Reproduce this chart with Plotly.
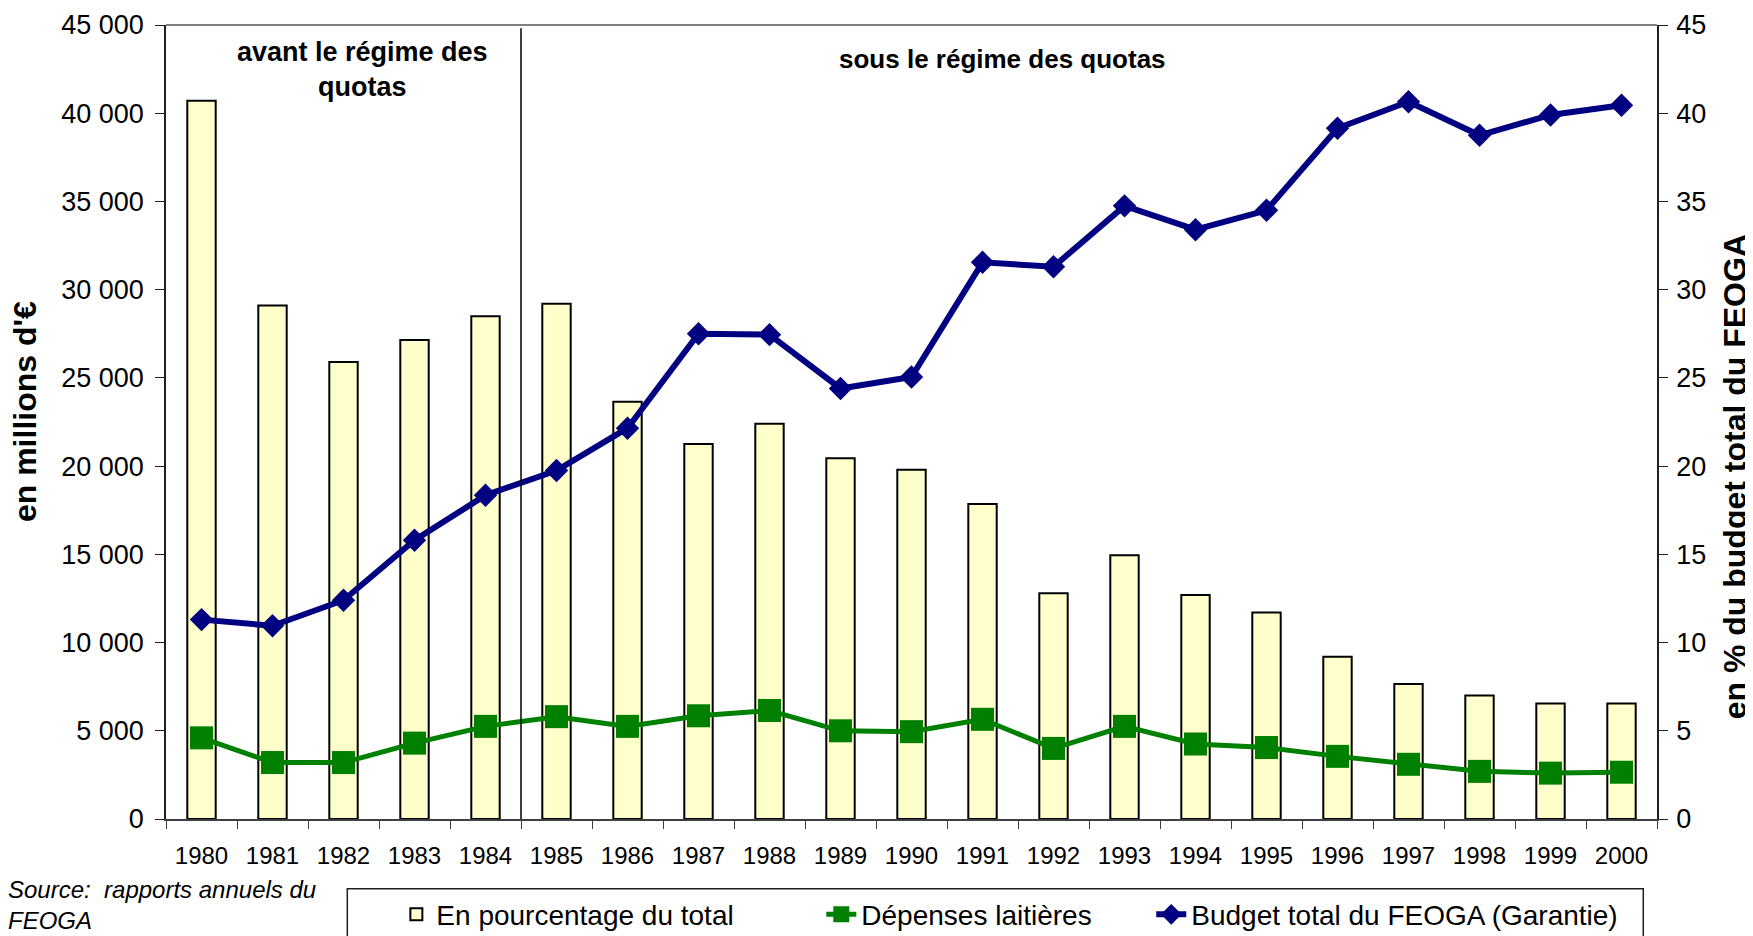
import plotly.graph_objects as go

years = [str(y) for y in range(1980, 2001)]
pct_of_total = [40.7, 29.1, 25.9, 27.15, 28.5, 29.2, 23.65, 21.25, 22.4, 20.45, 19.8,
                17.85, 12.8, 14.95, 12.7, 11.7, 9.2, 7.65, 7.0, 6.55, 6.55]
dairy_spend = [4600, 3200, 3200, 4300, 5250, 5800, 5250, 5850, 6150, 5000, 4950,
               5650, 4000, 5250, 4250, 4050, 3550, 3100, 2700, 2600, 2650]
feoga_budget = [11300, 10950, 12400, 15800, 18350, 19750, 22150, 27500, 27450, 24400, 25050,
                31550, 31300, 34750, 33400, 34500, 39150, 40650, 38750, 39900, 40450]

pct_ticks = list(range(0, 50, 5))
mio_ticks = list(range(0, 50000, 5000))

FONT = "Liberation Sans, Arial, sans-serif"

fig = go.Figure()
fig.add_trace(go.Bar(
    x=years, y=pct_of_total, name="En pourcentage du total",
    marker=dict(color="#FFFFCC", line=dict(color="black", width=2)),
    yaxis="y", legend="legend",
))
fig.add_trace(go.Scatter(
    x=years, y=dairy_spend, name="Dépenses laitières", mode="lines+markers",
    line=dict(color="#008000", width=5),
    marker=dict(symbol="square", size=23, color="#008000"),
    yaxis="y2", legend="legend2",
))
fig.add_trace(go.Scatter(
    x=years, y=feoga_budget, name="Budget total du FEOGA (Garantie)", mode="lines+markers",
    line=dict(color="#000080", width=6),
    marker=dict(symbol="diamond", size=18, color="#000080"),
    yaxis="y2", legend="legend3",
))

leg_common = dict(orientation="h", y=-0.089, xanchor="left", yanchor="top",
                  borderwidth=0, bgcolor="rgba(0,0,0,0)", font=dict(size=28))

fig.update_layout(
    width=1753, height=936,
    margin=dict(l=158, r=104, t=16.5, b=124.7, autoexpand=False),
    paper_bgcolor="white", plot_bgcolor="white",
    font=dict(family=FONT, size=26, color="black"),
    separators=", ",
    bargap=0.6,
    showlegend=True,
    legend=dict(x=0.1545, **leg_common),
    legend2=dict(x=0.4395, **leg_common),
    legend3=dict(x=0.6608, **leg_common),
    xaxis=dict(
        type="category", range=[-0.5, 20.5], showgrid=False, showline=True,
        linecolor="#404040", linewidth=1.5, automargin=False,
        ticks="outside", ticklen=8, tickcolor="#404040", tickson="boundaries",
        tickfont=dict(size=24), ticklabelstandoff=14,
    ),
    yaxis=dict(
        side="right", range=[0, 45], tickvals=pct_ticks, showgrid=False, automargin=False,
        showline=True, linecolor="#202020", linewidth=1.5, ticks="outside", ticklen=9,
        tickcolor="#202020", tickfont=dict(size=27), zeroline=False,
        ticklabelstandoff=3,
    ),
    yaxis2=dict(
        overlaying="y", side="left", range=[0, 45000], tickvals=mio_ticks, tickformat=",d",
        showgrid=False, showline=True, linecolor="#202020", linewidth=1.5, ticks="outside",
        ticklen=9, tickcolor="#202020", tickfont=dict(size=27), zeroline=False,
        ticklabelstandoff=6, automargin=False,
    ),
)

# top border of plot area (grey)
fig.add_shape(type="line", xref="paper", yref="paper", x0=0, x1=1, y0=1, y1=1,
              line=dict(color="#808080", width=2))
# separator between periods
fig.add_shape(type="line", xref="x", yref="paper", x0=4.5, x1=4.5, y0=0, y1=0.996,
              line=dict(color="black", width=1.5))
# legend frame
fig.add_shape(type="rect", xref="paper", yref="paper", x0=0.1216, x1=0.9908,
              y0=-0.0877, y1=-0.20, line=dict(color="#202020", width=1.5),
              fillcolor="rgba(0,0,0,0)", layer="below")

fig.add_annotation(text="<b>avant le régime des<br>quotas</b>", xref="paper", yref="paper",
                   x=0.1317, y=0.944, showarrow=False, font=dict(size=27),
                   xanchor="center", yanchor="middle")
fig.add_annotation(text="<b>sous le régime des quotas</b>", xref="paper", yref="paper",
                   x=0.561, y=0.957, showarrow=False, font=dict(size=26),
                   xanchor="center", yanchor="middle")
fig.add_annotation(text="<b>en millions d'€</b>", xref="paper", yref="paper",
                   x=-0.0946, y=0.5137, textangle=-90, showarrow=False, font=dict(size=32),
                   xanchor="center", yanchor="middle")
fig.add_annotation(text="<b>en % du budget total du FEOGA</b>", xref="paper", yref="paper",
                   x=1.0525, y=0.4307, textangle=-90, showarrow=False, font=dict(size=32),
                   xanchor="center", yanchor="middle")
fig.add_annotation(text="<i>Source:\u00a0\u00a0rapports annuels du<br>FEOGA</i>", xref="paper",
                   yref="paper", x=-0.107, y=-0.0692, showarrow=False, font=dict(size=24),
                   xanchor="left", yanchor="top", align="left")

fig.write_html("out.html")
